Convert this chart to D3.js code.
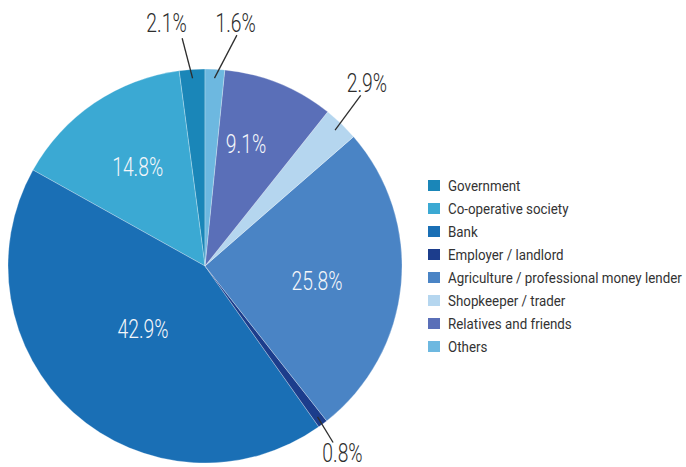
<!DOCTYPE html>
<html>
<head>
<meta charset="utf-8">
<script src="https://cdn.jsdelivr.net/npm/d3@7/dist/d3.min.js"></script>
<style>
  html, body { margin: 0; padding: 0; background: #ffffff; }
  svg { display: block; }
  text { font-family: Roboto, "Liberation Sans", sans-serif; }
</style>
</head>
<body>
<svg id="chart" width="686" height="467"></svg>
<script>
// Sources of credit, share of borrowing (%)
const categories = [
  "Government",
  "Co-operative society",
  "Bank",
  "Employer / landlord",
  "Agriculture / professional money lender",
  "Shopkeeper / trader",
  "Relatives and friends",
  "Others"
];
const shares = [2.1, 14.8, 42.9, 0.8, 25.8, 2.9, 9.1, 1.6];
const sliceColors = ["#1a86b8", "#3ba9d3", "#1a6fb5", "#1c3d8c", "#4a84c5", "#b5d6ef", "#5a6fb8", "#6db8e0"];

const data = categories.map((c, i) => ({ category: c, value: shares[i], color: sliceColors[i] }));

const svg = d3.select("#chart");
const cx = 205, cy = 266, R = 197;

// Slices run anticlockwise from twelve o'clock, in legend order
const pie = d3.pie().value(d => d.value).sort(null).startAngle(0).endAngle(-2 * Math.PI);
const arcs = pie(data);
const arc = d3.arc().innerRadius(0).outerRadius(R);

const g = svg.append("g").attr("transform", `translate(${cx},${cy})`);

g.selectAll("path.slice")
  .data(arcs)
  .join("path")
  .attr("class", "slice")
  .attr("d", arc)
  .attr("fill", d => d.data.color)
  .attr("stroke", "#ffffff")
  .attr("stroke-opacity", 0.45)
  .attr("stroke-width", 0.6);

const mid = d => (d.startAngle + d.endAngle) / 2;
const polar = (a, r) => [r * Math.sin(a), -r * Math.cos(a)];
const fmt = v => v.toFixed(1) + "%";

// Narrow the value labels so that "42.9%" spans about 51px
const valueFont = 25;
const probe = svg.append("text").attr("font-size", valueFont).attr("font-weight", 300).text("42.9%");
const valueScale = 51 / probe.node().getComputedTextLength();
probe.remove();

// Label placement inside the large slices: [angle shift, radius as fraction of R]
const insideLayout = {
  "Co-operative society": [0, 0.608],
  "Bank": [0.045, 0.449],
  "Relatives and friends": [-0.062, 0.653],
  "Agriculture / professional money lender": [0.039, 0.574]
};
// Callouts for the thin slices: line end [angle shift, radius], label [angle shift, radius]
const calloutLayout = {
  "Government": { line: [-0.034, 1.162], label: [-0.091, 1.25] },
  "Others": { line: [0.087, 1.183], label: [0.075, 1.244] },
  "Shopkeeper / trader": { line: [-0.024, 1.173], label: [-0.038, 1.239] },
  "Employer / landlord": { line: [0.013, 1.107], label: [0.008, 1.18] }
};

function valueLabel(x, y, fill, txt) {
  g.append("text")
    .attr("transform", `translate(${x},${y}) scale(${valueScale},1)`)
    .attr("text-anchor", "middle")
    .attr("dy", "0.35em")
    .attr("font-size", valueFont)
    .attr("font-weight", 300)
    .attr("fill", fill)
    .text(txt);
}

arcs.forEach(d => {
  const key = d.data.category;
  const a = mid(d);
  if (insideLayout[key]) {
    const [da, rf] = insideLayout[key];
    const [x, y] = polar(a + da, rf * R);
    valueLabel(x, y, "#f4f6fa", fmt(d.data.value));
  } else if (calloutLayout[key]) {
    const c = calloutLayout[key];
    const p1 = polar(a, 0.955 * R);
    const p2 = polar(a + c.line[0], c.line[1] * R);
    const pl = polar(a + c.label[0], c.label[1] * R);
    g.append("line")
      .attr("x1", p1[0]).attr("y1", p1[1])
      .attr("x2", p2[0]).attr("y2", p2[1])
      .attr("stroke", "#2e2e2e")
      .attr("stroke-width", 1.3);
    valueLabel(pl[0], pl[1], "#2e2e2e", fmt(d.data.value));
  }
});

// Legend
const legendY = d3.scaleBand().domain(categories).range([174, 358]).paddingInner(0);
const legend = svg.append("g").attr("transform", "translate(428,0)");
const rows = legend.selectAll("g.row")
  .data(data)
  .join("g")
  .attr("class", "row")
  .attr("transform", d => `translate(0,${legendY(d.category) + legendY.bandwidth() / 2})`);

rows.append("rect")
  .attr("x", 0).attr("y", -5.5)
  .attr("width", 12).attr("height", 11)
  .attr("fill", d => d.color);

const legendText = rows.append("text")
  .attr("dy", "0.36em")
  .attr("font-size", 15.5)
  .attr("fill", "#333333")
  .text(d => d.category);

// Condense the legend so the longest entry runs from x=448 to about x=682
const longest = d3.max(legendText.nodes(), n => n.getComputedTextLength());
const legendScale = 234 / longest;
legendText.attr("transform", `translate(20,0) scale(${legendScale},1)`);
</script>
</body>
</html>
